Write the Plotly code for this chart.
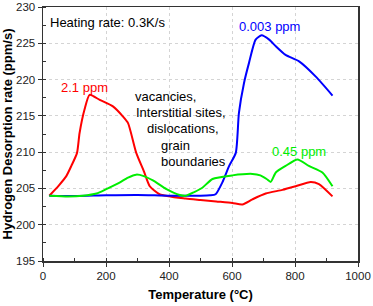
import plotly.graph_objects as go

# Data
red_x = [20, 50, 74, 90, 108, 116, 132, 148, 180, 222, 254, 270, 296, 320, 339, 370, 453, 500, 550, 601, 633, 665, 707, 760, 802, 850, 876, 919]
red_y = [204, 205.4, 206.7, 208.1, 209.9, 212.6, 215.9, 217.9, 217.2, 216.3, 214.9, 214.0, 209.9, 207.4, 205.3, 204.2, 203.6, 203.4, 203.2, 203.0, 202.8, 203.5, 204.3, 204.8, 205.3, 205.9, 205.6, 203.9]

blue_x = [20, 100, 200, 300, 400, 500, 530, 548, 569, 591, 612, 622, 638, 654, 675, 694, 718, 739, 770, 813, 866, 919]
blue_y = [204, 203.95, 204.05, 204.1, 204.0, 204.0, 204.05, 204.2, 205.8, 208.1, 209.9, 215.4, 219.5, 222.3, 225.5, 226.1, 225.5, 224.6, 223.4, 222.5, 220.4, 217.8]

green_x = [20, 80, 127, 170, 201, 243, 270, 296, 320, 349, 392, 434, 453, 480, 506, 538, 601, 665, 690, 710, 723, 739, 770, 808, 844, 887, 919]
green_y = [204, 203.9, 204, 204.3, 204.9, 205.8, 206.5, 206.9, 206.7, 206.1, 204.9, 204.1, 204.0, 204.5, 205.1, 206.3, 206.8, 207.0, 206.8, 206.3, 205.9, 207.2, 208.1, 209.0, 208.1, 207.2, 205.3]

x_ticks = [0, 200, 400, 600, 800, 1000]
y_ticks = [195, 200, 205, 210, 215, 220, 225, 230]

labels = ["Heating rate: 0.3K/s", "2.1 ppm", "0.003 ppm", "0.45 ppm",
          "vacancies,", "Interstitial sites,", "dislocations,", "grain", "boundaries"]
label_x = [15, 133, 720, 814, 285, 288, 323, 367, 367]
label_y = [227.8, 218.9, 227.3, 210.1, 217.7, 215.4, 213.2, 210.9, 208.7]
label_color = ["black", "#ff0000", "#0000ff", "#00ee00", "black", "black", "black", "black", "black"]
label_anchor = ["left", "center", "center", "center", "left", "left", "left", "left", "left"]

FONT = "Liberation Sans, Arial, sans-serif"

fig = go.Figure()
for xs, ys, c in [(red_x, red_y, "#ff0000"), (blue_x, blue_y, "#0000ff"), (green_x, green_y, "#00ee00")]:
    fig.add_trace(go.Scatter(x=xs, y=ys, mode="lines",
                             line=dict(color=c, width=2, shape="spline", smoothing=0.6),
                             showlegend=False, hoverinfo="skip"))

for t, xx, yy, c, a in zip(labels, label_x, label_y, label_color, label_anchor):
    fig.add_annotation(x=xx, y=yy, text=t, showarrow=False, xanchor=a, yanchor="middle",
                       font=dict(family=FONT, size=13, color=c))

axis_common = dict(
    showline=True, linecolor="#333333", linewidth=1.5, mirror=True,
    showgrid=True, gridcolor="#d4d4d4", griddash="dot", gridwidth=1,
    ticks="outside", ticklen=4, tickwidth=1, tickcolor="#333333",
    tickfont=dict(family=FONT, size=11.5, color="#222222"),
    zeroline=False, automargin=False,
)

fig.update_xaxes(range=[0, 1000], tickvals=x_ticks, ticktext=[str(v) for v in x_ticks],
                 minor=dict(ticks="inside", ticklen=3, tickcolor="#333333", dtick=100, showgrid=False),
                 title=dict(text="<b>Temperature (°C)</b>", font=dict(family=FONT, size=13, color="black"), standoff=8),
                 **axis_common)
fig.update_yaxes(range=[195, 230], tickvals=y_ticks, ticktext=[str(v) for v in y_ticks],
                 minor=dict(ticks="inside", ticklen=3, tickcolor="#333333", dtick=2.5, showgrid=False),
                 title=dict(text="<b>Hydrogen Desorption rate (ppm/s)</b>", font=dict(family=FONT, size=13, color="black"), standoff=5),
                 **axis_common)

fig.update_layout(
    width=373, height=306,
    margin=dict(l=43, r=15, t=7, b=45),
    paper_bgcolor="white", plot_bgcolor="white",
    font=dict(family=FONT),
)

fig.write_html("out.html", config={"displayModeBar": False, "staticPlot": True},
               post_script="document.body.style.margin='0';document.body.style.padding='0';document.body.style.overflow='hidden';")
